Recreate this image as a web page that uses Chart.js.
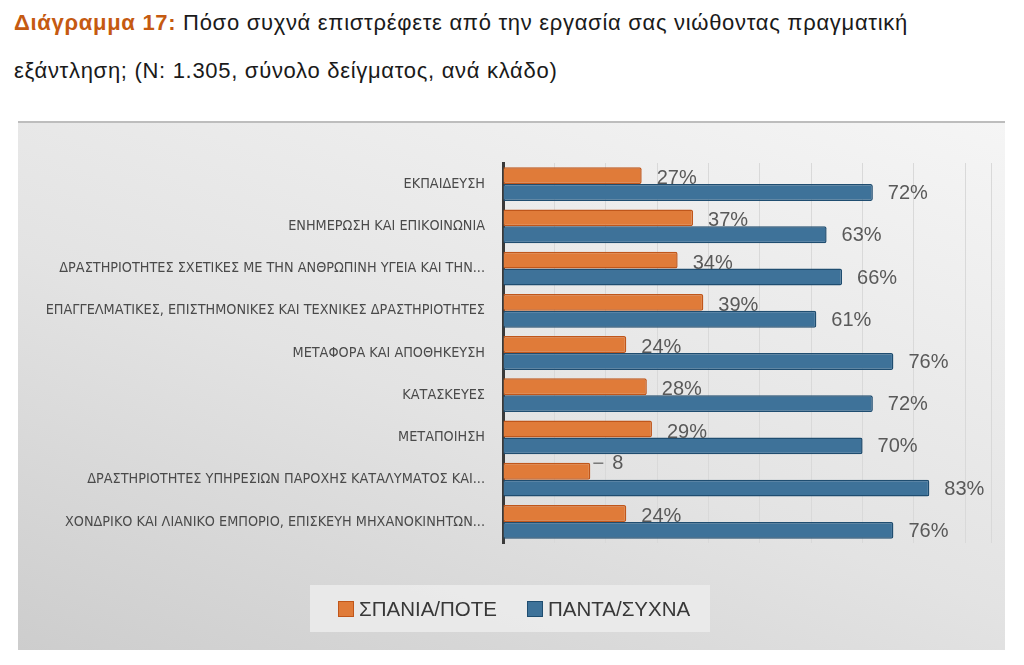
<!DOCTYPE html>
<html>
<head>
<meta charset="utf-8">
<script src="https://cdn.jsdelivr.net/npm/chart.js@4"></script>
<style>
  html, body { margin: 0; padding: 0; background: #fff; }
  body { width: 1024px; height: 665px; position: relative; overflow: hidden; }
  .title { position: absolute; left: 14px; font-family: "Liberation Sans", Arial, sans-serif; font-size: 22px; letter-spacing: 0.7px; color: #1a1a1a; white-space: nowrap; }
  .title b { color: #c55a11; }
  #t1 { top: 10px; }
  #t2 { top: 58px; }
  #box { position: absolute; left: 18px; top: 121px; width: 987px; height: 529px;
         background: linear-gradient(20deg, #cdcdcd 0%, #e3e3e3 45%, #f5f5f5 100%);
         border-top: 2px solid #bdbdbd; box-sizing: border-box; }
  #wrap { position: absolute; left: 0; top: 0; width: 1024px; height: 665px; }
  #legend { position: absolute; left: 310px; top: 585px; width: 400px; height: 47px; background: rgba(236,236,236,0.85);
            font-family: "Liberation Sans", Arial, sans-serif; font-size: 20.5px; color: #383838; }
  .item { position: absolute; top: 12px; display: flex; align-items: center; }
  .sw { width: 14px; height: 14px; border: 1px solid; margin-right: 5px; }
</style>
</head>
<body>
<div class="title" id="t1"><b>Διάγραμμα 17:</b> Πόσο συχνά επιστρέφετε από την εργασία σας νιώθοντας πραγματική</div>
<div class="title" id="t2">εξάντληση; (Ν: 1.305, σύνολο δείγματος, ανά κλάδο)</div>
<div id="box"></div>
<div id="wrap"><canvas id="myChart" width="1024" height="665"></canvas></div>
<div id="legend">
  <div class="item" style="left:28px"><span class="sw" style="background:#e07b39;border-color:#c0561a"></span>ΣΠΑΝΙΑ/ΠΟΤΕ</div>
  <div class="item" style="left:217px"><span class="sw" style="background:#3e7299;border-color:#1f4d70"></span>ΠΑΝΤΑ/ΣΥΧΝΑ</div>
</div>
<script>
/* ---------- DATA ---------- */
const sectors = [
    'ΕΚΠΑΙΔΕΥΣΗ',
    'ΕΝΗΜΕΡΩΣΗ ΚΑΙ ΕΠΙΚΟΙΝΩΝΙΑ',
    'ΔΡΑΣΤΗΡΙΟΤΗΤΕΣ ΣΧΕΤΙΚΕΣ ΜΕ ΤΗΝ ΑΝΘΡΩΠΙΝΗ ΥΓΕΙΑ ΚΑΙ ΤΗΝ...',
    'ΕΠΑΓΓΕΛΜΑΤΙΚΕΣ, ΕΠΙΣΤΗΜΟΝΙΚΕΣ ΚΑΙ ΤΕΧΝΙΚΕΣ ΔΡΑΣΤΗΡΙΟΤΗΤΕΣ',
    'ΜΕΤΑΦΟΡΑ ΚΑΙ ΑΠΟΘΗΚΕΥΣΗ',
    'ΚΑΤΑΣΚΕΥΕΣ',
    'ΜΕΤΑΠΟΙΗΣΗ',
    'ΔΡΑΣΤΗΡΙΟΤΗΤΕΣ ΥΠΗΡΕΣΙΩΝ ΠΑΡΟΧΗΣ ΚΑΤΑΛΥΜΑΤΟΣ ΚΑΙ...',
    'ΧΟΝΔΡΙΚΟ ΚΑΙ ΛΙΑΝΙΚΟ ΕΜΠΟΡΙΟ, ΕΠΙΣΚΕΥΗ ΜΗΧΑΝΟΚΙΝΗΤΩΝ...'
];
const rarely = [27, 37, 34, 39, 24, 28, 29, 17, 24];
const often  = [72, 63, 66, 61, 76, 72, 70, 83, 76];
const rarelyLabels = ['27%', '37%', '34%', '39%', '24%', '28%', '29%', '8', '24%'];
const oftenLabels  = ['72%', '63%', '66%', '61%', '76%', '72%', '70%', '83%', '76%'];

/* ---------- VALUE LABELS ---------- */
const valueLabels = {
    id: 'valueLabels',
    afterDatasetsDraw(chart) {
        const ctx = chart.ctx;
        const sets = [rarelyLabels, oftenLabels];
        ctx.save();
        ctx.font = '20px "Liberation Sans", Arial, sans-serif';
        ctx.fillStyle = '#595959';
        ctx.textBaseline = 'middle';
        sets.forEach((labels, di) => {
            chart.getDatasetMeta(di).data.forEach((bar, i) => {
                const txt = labels[i];
                let y = bar.y + (di === 0 ? 3 : 1);
                let x = bar.x + 15;
                if (!txt.endsWith('%')) {
                    // leader line for the shifted label
                    y = bar.y - 8;
                    ctx.strokeStyle = '#777';
                    ctx.lineWidth = 1.5;
                    ctx.beginPath();
                    ctx.moveTo(bar.x + 3, y);
                    ctx.lineTo(bar.x + 13, y);
                    ctx.stroke();
                    x = bar.x + 22;
                }
                ctx.fillText(txt, x, y);
            });
        });
        ctx.restore();
    }
};

const ctx = document.getElementById('myChart').getContext('2d');
new Chart(ctx, {
    type: 'bar',
    data: {
        labels: sectors,
        datasets: [
            {
                label: 'ΣΠΑΝΙΑ/ΠΟΤΕ',
                data: rarely,
                backgroundColor: '#e07b39',
                borderColor: '#c0561a',
                borderWidth: 1.5,
                borderRadius: 2
            },
            {
                label: 'ΠΑΝΤΑ/ΣΥΧΝΑ',
                data: often,
                backgroundColor: '#3e7299',
                borderColor: '#1f4d70',
                borderWidth: 1.5,
                borderRadius: 2
            }
        ]
    },
    options: {
        indexAxis: 'y',
        responsive: false,
        animation: false,
        layout: { padding: { top: 163, bottom: 122, left: 0, right: 33 } },
        datasets: { bar: { categoryPercentage: 0.8, barPercentage: 1.0 } },
        plugins: {
            legend: { display: false },
            tooltip: { enabled: false }
        },
        scales: {
            x: {
                min: 0,
                max: 95,
                ticks: { display: false, stepSize: 10 },
                grid: { color: '#d9d9d9', drawTicks: false },
                border: { display: false }
            },
            y: {
                afterFit: s => { s.width = 503; },
                grid: { display: false, drawTicks: false },
                border: { display: true, color: '#3a3a3a', width: 3 },
                ticks: {
                    padding: 18,
                    color: '#4a4a4a',
                    font: { family: '"Liberation Sans Narrow", "DejaVu Sans Condensed", sans-serif', size: 14.3 }
                }
            }
        }
    },
    plugins: [valueLabels]
});
</script>
</body>
</html>
